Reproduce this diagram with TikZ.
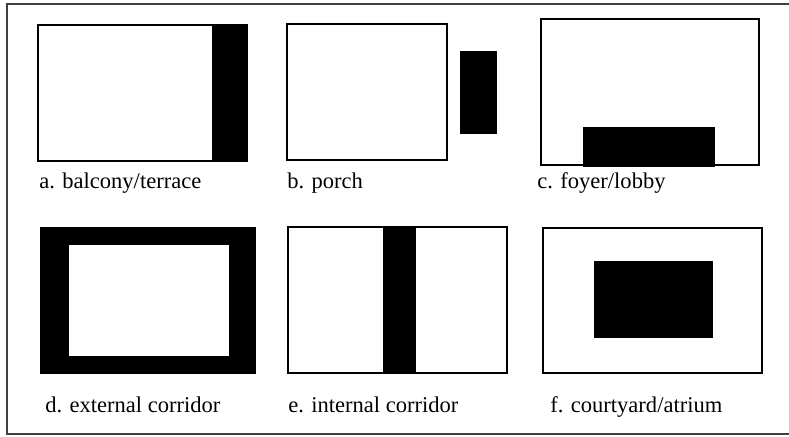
\documentclass[tikz,border=0pt]{standalone}
\usepackage{fontspec}
\setmainfont{Liberation Serif}
\usepackage{xcolor}
\definecolor{cFrame}{HTML}{404040}
\definecolor{cInk}{HTML}{000000}
\usetikzlibrary{positioning}
\tikzset{
  room-box/.style={draw=cInk,line width=1.3pt},
  space-fill/.style={fill=cInk,draw=none},
  frame-line/.style={draw=cFrame,line width=1.2pt},
  caption-text/.style={anchor=base west,inner sep=0pt,
    font=\fontsize{16.9}{20}\selectfont},
}

\begin{document}
\begin{tikzpicture}[x=0.75pt,y=-0.75pt]
  \useasboundingbox (0,0) rectangle (789,436);
  % outer frame, open on the right
  \draw[frame-line] (789,4) -- (7,4) -- (7,434) -- (789,434);

  % a. balcony/terrace
  \draw[room-box] (38,25) rectangle (247,161);
  \fill[space-fill] (212,25) rectangle (247,161);
  \node[caption-text] (cap-a) at (39,188) {a. balcony/terrace};

  % b. porch
  \draw[room-box] (287,24) rectangle (447,160);
  \fill[space-fill] (460,51) rectangle (497,134);
  \node[caption-text] (cap-b) at (287,188) {b. porch};

  % c. foyer/lobby
  \draw[room-box] (541,19) rectangle (759,165);
  \fill[space-fill] (583,127) rectangle (715,167);
  \node[caption-text] (cap-c) at (537,188) {c. foyer/lobby};

  % d. external corridor
  \fill[space-fill] (40,227) rectangle (256,374);
  \fill[white] (69,245) rectangle (229,356);
  \node[caption-text] (cap-d) at (45,412) {d. external corridor};

  % e. internal corridor
  \draw[room-box] (288,227) rectangle (507,373);
  \fill[space-fill] (383,227) rectangle (416,373);
  \node[caption-text] (cap-e) at (288,412) {e. internal corridor};

  % f. courtyard/atrium
  \draw[room-box] (543,228) rectangle (762,373);
  \fill[space-fill] (594,261) rectangle (713,338);
  \node[caption-text] (cap-f) at (550,412) {f. courtyard/atrium};
\end{tikzpicture}
\end{document}
